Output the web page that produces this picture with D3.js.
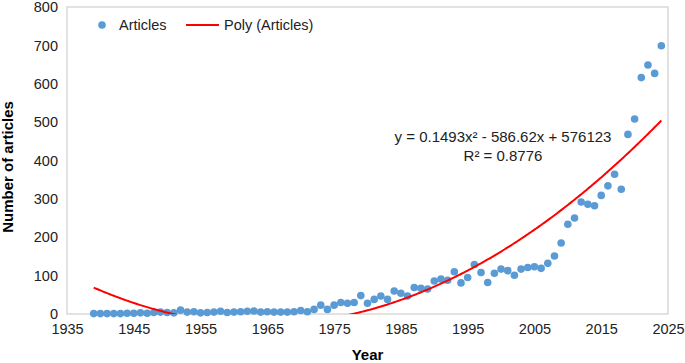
<!DOCTYPE html>
<html>
<head>
<meta charset="utf-8">
<script src="https://cdn.jsdelivr.net/npm/d3@7"></script>
<style>
  html, body { margin: 0; padding: 0; background: #fff; }
  svg { display: block; font-family: "Liberation Sans", Arial, Helvetica, sans-serif; }
</style>
</head>
<body>
<svg id="chart"></svg>
<script>
// articles per year
const years = d3.range(1939, 2025);
const articles = [
  1, 1, 1, 1, 1, 2, 2, 3, 2, 4, 5, 4, 3, 10, 5, 6, 3, 4, 5, 7,   // 1939-1958
  4, 5, 6, 7, 8, 5, 6, 5, 5, 5, 6, 9, 6, 12, 23, 12, 23, 30, 28, 30, // 1959-1978
  48, 28, 38, 47, 38, 60, 54, 47, 69, 67, 65, 86, 91, 88, 110, 81, 95, 129, 108, 82, // 1979-1998
  106, 117, 113, 101, 117, 121, 123, 119, 132, 151, 185, 234, 250, 292, 286, 282, 309, 334, 364, 325, // 1999-2018
  468, 508, 616, 649, 627, 699 // 2019-2024
];
const xTicks = d3.range(1935, 2026, 10);
const yTicks = d3.range(0, 801, 100);
const equation = "y = 0.1493x² - 586.62x + 576123";
const rSquared = "R² = 0.8776";

const width = 685, height = 363;
const margin = { top: 7, right: 17, bottom: 49, left: 67 };
const innerW = width - margin.left - margin.right;
const innerH = height - margin.top - margin.bottom;

const data = years.map((y, i) => ({ year: y, value: articles[i] }));

// 2nd order least squares fit (same as the spreadsheet trendline)
function polyFit(pts) {
  const mx = d3.mean(pts, d => d.year);
  const S = [0, 0, 0, 0, 0], T = [0, 0, 0];
  pts.forEach(d => {
    const t = d.year - mx;
    for (let k = 0; k < 5; k++) S[k] += Math.pow(t, k);
    for (let k = 0; k < 3; k++) T[k] += d.value * Math.pow(t, k);
  });
  const A = [
    [S[0], S[1], S[2], T[0]],
    [S[1], S[2], S[3], T[1]],
    [S[2], S[3], S[4], T[2]]
  ];
  for (let i = 0; i < 3; i++) {
    for (let j = i + 1; j < 3; j++) {
      const f = A[j][i] / A[i][i];
      for (let k = i; k < 4; k++) A[j][k] -= f * A[i][k];
    }
  }
  const c = [0, 0, 0];
  for (let i = 2; i >= 0; i--) {
    let s = A[i][3];
    for (let k = i + 1; k < 3; k++) s -= A[i][k] * c[k];
    c[i] = s / A[i][i];
  }
  return x => c[0] + c[1] * (x - mx) + c[2] * (x - mx) * (x - mx);
}
const fit = polyFit(data);
const fitLine = d3.range(1939, 2024.01, 0.25).map(x => ({ year: x, value: fit(x) }));

const svg = d3.select("#chart").attr("width", width).attr("height", height);

const x = d3.scaleLinear().domain([1935, 2025]).range([0, innerW]);
const y = d3.scaleLinear().domain([0, 800]).range([innerH, 0]);

svg.append("defs").append("clipPath").attr("id", "plotClip")
  .append("rect").attr("width", innerW).attr("height", innerH);

const g = svg.append("g").attr("transform", `translate(${margin.left},${margin.top})`);

// plot frame
g.append("rect")
  .attr("width", innerW).attr("height", innerH)
  .attr("fill", "none").attr("stroke", "#d9d9d9").attr("stroke-width", 1.5);

// axes (labels only, no tick marks)
const xAxis = g.append("g")
  .attr("transform", `translate(0,${innerH})`)
  .call(d3.axisBottom(x).tickValues(xTicks).tickFormat(d3.format("d")).tickSize(0).tickPadding(10));
const yAxis = g.append("g")
  .call(d3.axisLeft(y).tickValues(yTicks).tickSize(0).tickPadding(9));
[xAxis, yAxis].forEach(a => {
  a.select(".domain").remove();
  a.selectAll("text").attr("font-size", 14.5).attr("fill", "#222")
    .attr("font-family", "'Liberation Sans', Arial, sans-serif");
});

// points
g.selectAll(".dot")
  .data(data)
  .enter()
  .append("circle")
  .attr("class", "dot")
  .attr("cx", d => x(d.year))
  .attr("cy", d => y(d.value))
  .attr("r", 3.8)
  .attr("fill", "#5b9bd5");

// trendline
g.append("path")
  .datum(fitLine)
  .attr("clip-path", "url(#plotClip)")
  .attr("fill", "none")
  .attr("stroke", "#ff0000")
  .attr("stroke-width", 2)
  .attr("d", d3.line().x(d => x(d.year)).y(d => y(d.value)));

// equation
g.append("text")
  .attr("x", 436).attr("y", 142 - margin.top)
  .attr("text-anchor", "middle").attr("font-size", 15).attr("fill", "#222")
  .text(equation);
g.append("text")
  .attr("x", 436).attr("y", 161 - margin.top)
  .attr("text-anchor", "middle").attr("font-size", 15).attr("fill", "#222")
  .text(rSquared);

// legend
const legend = svg.append("g");
legend.append("circle").attr("cx", 102).attr("cy", 25).attr("r", 3.8).attr("fill", "#5b9bd5");
legend.append("text").attr("x", 119).attr("y", 30).attr("font-size", 14.5).attr("fill", "#222").text("Articles");
legend.append("line").attr("x1", 186).attr("x2", 219).attr("y1", 25).attr("y2", 25)
  .attr("stroke", "#ff0000").attr("stroke-width", 2);
legend.append("text").attr("x", 224).attr("y", 30).attr("font-size", 14.5).attr("fill", "#222").text("Poly (Articles)");

// axis titles
svg.append("text")
  .attr("x", margin.left + innerW / 2).attr("y", 360)
  .attr("text-anchor", "middle").attr("font-size", 15).attr("font-weight", "bold")
  .text("Year");
svg.append("text")
  .attr("transform", `translate(13,167) rotate(-90)`)
  .attr("text-anchor", "middle").attr("font-size", 15).attr("font-weight", "bold")
  .text("Number of articles");
</script>
</body>
</html>
